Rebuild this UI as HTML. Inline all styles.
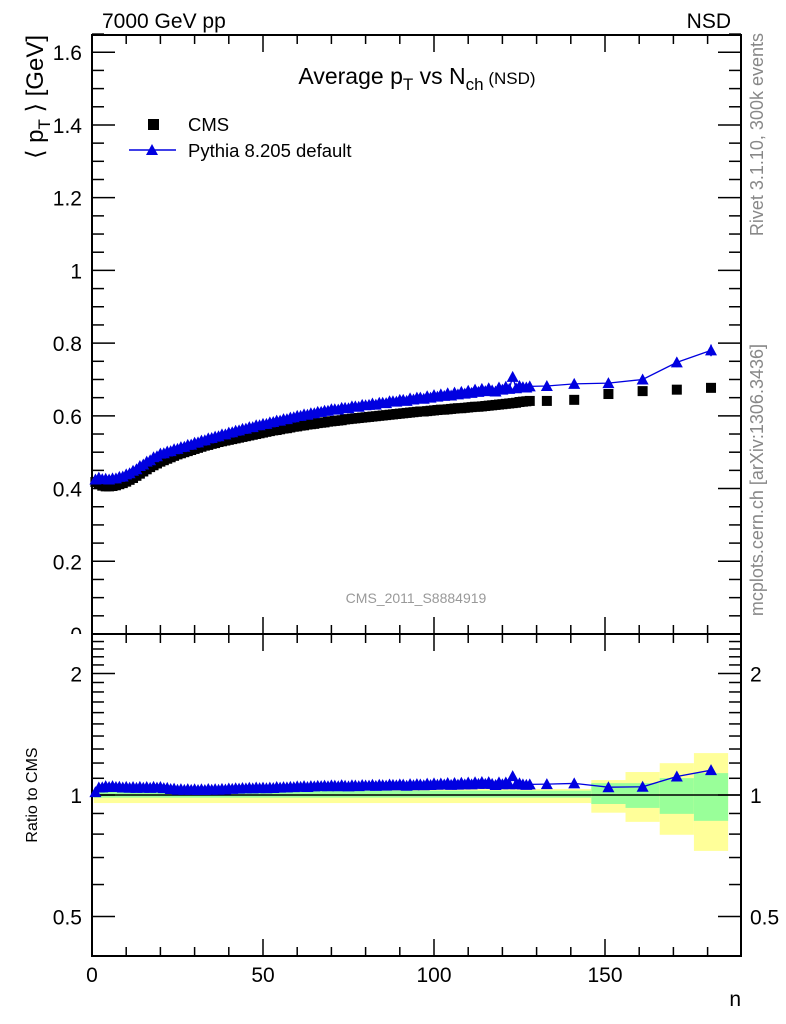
<!DOCTYPE html>
<html><head><meta charset="utf-8"><style>
html,body{margin:0;padding:0;background:#fff;}
svg{display:block;font-family:"Liberation Sans",sans-serif;}
</style></head><body>
<svg id="chart" width="786" height="1024" viewBox="0 0 786 1024" xmlns="http://www.w3.org/2000/svg"></svg>
<script>
const cmsN = [1,2,3,4,5,6,7,8,9,10,11,12,13,14,15,16,17,18,19,20,21,22,23,24,25,26,27,28,29,30,31,32,33,34,35,36,37,38,39,40,41,42,43,44,45,46,47,48,49,50,51,52,53,54,55,56,57,58,59,60,61,62,63,64,65,66,67,68,69,70,71,72,73,74,75,76,77,78,79,80,81,82,83,84,85,86,87,88,89,90,91,92,93,94,95,96,97,98,99,100,101,102,103,104,105,106,107,108,109,110,111,112,113,114,115,116,117,118,119,120,121,122,123,124,125,126,127,128,133,141,151,161,171,181];
const cmsVals = [0.418,0.412,0.408,0.406,0.406,0.407,0.409,0.412,0.415,0.419,0.424,0.429,0.435,0.441,0.447,0.453,0.459,0.464,0.469,0.474,
0.478,0.482,0.486,0.490,0.494,0.497,0.500,0.503,0.506,0.509,
0.512,0.515,0.518,0.520,0.523,0.525,0.528,0.530,0.532,0.534,
0.536,0.538,0.540,0.542,0.544,0.546,0.548,0.550,0.552,0.554,
0.556,0.558,0.560,0.561,0.563,0.565,0.566,0.568,0.570,0.571,
0.573,0.574,0.576,0.577,0.578,0.580,0.581,0.582,0.584,0.585,
0.586,0.587,0.588,0.590,0.591,0.592,0.593,0.594,0.595,0.596,
0.597,0.598,0.599,0.600,0.601,0.602,0.603,0.604,0.605,0.606,
0.607,0.608,0.609,0.610,0.611,0.612,0.612,0.613,0.614,0.615,
0.616,0.617,0.617,0.618,0.619,0.620,0.621,0.621,0.622,0.623,
0.624,0.625,0.625,0.626,0.627,0.628,0.629,0.630,0.631,0.632,
0.633,0.634,0.635,0.636,0.638,0.639,0.640,0.641,
0.641,0.644,0.660,0.668,0.672,0.677];
const pyVals = [0.425,0.430,0.426,0.427,0.425,0.428,0.428,0.432,0.433,0.439,0.442,0.449,0.453,0.462,0.466,0.474,0.478,0.486,0.489,0.496,
0.497,0.502,0.503,0.508,0.509,0.514,0.515,0.520,0.521,0.526,
0.527,0.532,0.533,0.538,0.539,0.543,0.544,0.549,0.549,0.554,
0.555,0.559,0.560,0.564,0.565,0.569,0.569,0.574,0.574,0.578,
0.578,0.582,0.583,0.587,0.587,0.591,0.591,0.595,0.596,0.600,
0.600,0.604,0.603,0.607,0.607,0.611,0.611,0.614,0.614,0.618,
0.618,0.617,0.622,0.622,0.621,0.626,0.626,0.625,0.630,0.629,
0.630,0.634,0.631,0.636,0.636,0.635,0.640,0.640,0.639,0.644,
0.644,0.641,0.648,0.645,0.650,0.650,0.647,0.654,0.650,0.657,
0.653,0.659,0.655,0.662,0.656,0.664,0.659,0.666,0.661,0.669,
0.663,0.672,0.666,0.674,0.668,0.676,0.670,0.667,0.678,0.672,
0.680,0.674,0.707,0.676,0.682,0.679,0.678,0.681,
0.682,0.688,0.690,0.700,0.747,0.780];
const pyErr = [0.004,0.004,0.004,0.006,0.013,0.016];
const bandLo = [146,156,166,176];
const bandHi = [156,166,176,186];
const yelTop = [1.089,1.14,1.199,1.27];
const yelBot = [0.904,0.858,0.797,0.727];
const grnTop = [1.07,1.07,1.101,1.133];
const grnBot = [0.95,0.929,0.898,0.863];
const xTicks = [0,50,100,150];
const yTicks = [0,0.2,0.4,0.6,0.8,1,1.2,1.4,1.6];
const rTicks = [0.5,1,2];

const svg = document.getElementById('chart');
const NS = 'http://www.w3.org/2000/svg';
function el(tag, attrs, parent){const e=document.createElementNS(NS,tag);for(const k in attrs)e.setAttribute(k,attrs[k]);(parent||svg).appendChild(e);return e;}
const L=92, R=741, T=35, MB=634, RB=956;
const xs = v => L + v*3.42;
const ys = v => MB - v*363.6;
const rs = v => 795 - Math.log2(v)*121.5;

const bandG = el('g',{});


let yb = el('rect',{x:xs(0.5),y:rs(1.035),width:xs(146)-xs(0.5),height:rs(0.955)-rs(1.035),fill:'#ffff99'},bandG);


let gb = el('rect',{x:xs(0.5),y:rs(1.025),width:xs(146)-xs(0.5),height:rs(0.985)-rs(1.025),fill:'#99ff99'},bandG);


for(let i=0;i<bandLo.length;i++){
  const w = xs(bandHi[i])-xs(bandLo[i]);
  const a = el('rect',{x:xs(bandLo[i]),y:rs(yelTop[i]),width:w,height:rs(yelBot[i])-rs(yelTop[i]),fill:'#ffff99'},bandG);
  
  
  const b = el('rect',{x:xs(bandLo[i]),y:rs(grnTop[i]),width:w,height:rs(grnBot[i])-rs(grnTop[i]),fill:'#99ff99'},bandG);
  
  
}
el('line',{x1:L,x2:R,y1:rs(1),y2:rs(1),stroke:'#000','stroke-width':1.5});

const f1 = el('rect',{x:L,y:T,width:R-L,height:MB-T,fill:'none',stroke:'#000','stroke-width':2});


const f2 = el('rect',{x:L,y:MB,width:R-L,height:RB-MB,fill:'none',stroke:'#000','stroke-width':2});



for(let v=0; v<=185; v+=10){
  const maj = v%50===0, len = maj?17:9;
  for(const [top,bot] of [[T,MB],[MB,RB]]){
    el('line',{x1:xs(v),x2:xs(v),y1:top,y2:top+len,stroke:'#000','stroke-width':1.5});
    el('line',{x1:xs(v),x2:xs(v),y1:bot,y2:bot-len,stroke:'#000','stroke-width':1.5});
  }
}
for(const v of xTicks){
  const t = el('text',{x:xs(v),y:982,'font-size':21,'text-anchor':'middle'});
  t.textContent=v;
  
  
}
for(let i=0;i<=33;i++){
  const v=i*0.05, maj=i%4===0, len=maj?23:12;
  el('line',{x1:L,x2:L+len,y1:ys(v),y2:ys(v),stroke:'#000','stroke-width':1.5});
  el('line',{x1:R,x2:R-len,y1:ys(v),y2:ys(v),stroke:'#000','stroke-width':1.5});
}
const clipD = el('clipPath',{id:'mainclip'});
el('rect',{x:0,y:0,width:786,height:MB},clipD);
for(const v of yTicks){
  const t = el('text',{x:82,y:ys(v)+8,'font-size':21,'text-anchor':'end','clip-path':'url(#mainclip)'});
  t.textContent = v===0?'0':(Number.isInteger(v)?v:v.toFixed(1));
  
  
}
const rMinor=[0.5,0.6,0.7,0.8,0.9,1,1.1,1.2,1.3,1.4,1.5,1.6,1.7,1.8,1.9,2,2.1,2.2,2.3,2.4,2.5];
for(const v of rMinor){
  const maj = rTicks.includes(v), len=maj?23:12;
  if(rs(v)<MB+1) continue;
  el('line',{x1:L,x2:L+len,y1:rs(v),y2:rs(v),stroke:'#000','stroke-width':1.5});
  el('line',{x1:R,x2:R-len,y1:rs(v),y2:rs(v),stroke:'#000','stroke-width':1.5});
}
for(const v of rTicks){
  const t = el('text',{x:82,y:rs(v)+8,'font-size':21,'text-anchor':'end'});
  t.textContent=v;
  
  
  const t2 = el('text',{x:750,y:rs(v)+8,'font-size':21,'text-anchor':'start'});
  t2.textContent=v;
  
  
}

const cmsG = el('g',{fill:'#000'});


for(let i=0;i<cmsN.length;i++){
  const m = el('rect',{x:xs(cmsN[i])-5,y:ys(cmsVals[i])-5,width:10,height:10},cmsG);
  
  
}
function tri(cx,cy,g){return el('polygon',{points:`${cx},${cy-6} ${cx-6},${cy+5} ${cx+6},${cy+5}`},g);}
const pyG = el('g',{fill:'#0000e0',stroke:'#0000e0'});


let pts = cmsN.map((n,i)=>xs(n)+','+ys(pyVals[i])).join(' ');
const pl = el('polyline',{points:pts,fill:'none','stroke-width':1.3},pyG);


const nS = cmsN.length - pyErr.length;
for(let i=0;i<cmsN.length;i++){
  if(i>=nS){
    const e=pyErr[i-nS];
    el('line',{x1:xs(cmsN[i]),x2:xs(cmsN[i]),y1:ys(pyVals[i]+e),y2:ys(pyVals[i]-e),'stroke-width':1.5},pyG);
  }
  const m = tri(xs(cmsN[i]),ys(pyVals[i]),pyG);
  m.setAttribute('stroke','none');
  
  
}
const rG = el('g',{fill:'#0000e0',stroke:'#0000e0'});


let rpts = cmsN.map((n,i)=>xs(n)+','+rs(pyVals[i]/cmsVals[i])).join(' ');
const rl = el('polyline',{points:rpts,fill:'none','stroke-width':1.3},rG);


for(let i=0;i<cmsN.length;i++){
  const r = pyVals[i]/cmsVals[i];
  if(i>=nS){
    const e=pyErr[i-nS]/cmsVals[i];
    el('line',{x1:xs(cmsN[i]),x2:xs(cmsN[i]),y1:rs(r+e),y2:rs(r-e),'stroke-width':1.5},rG);
  }
  const m = tri(xs(cmsN[i]),rs(r),rG);
  m.setAttribute('stroke','none');
  
  
}

function txt(x,y,s,attrs,name){const t=el('text',Object.assign({x:x,y:y},attrs));t.textContent=s;return t;}
txt(102,28,'7000 GeV pp',{'font-size':21},'energy-label');
txt(731,28,'NSD',{'font-size':21,'text-anchor':'end'},'process-label');
const title = el('text',{x:417,y:84,'font-size':23,'text-anchor':'middle'});
title.innerHTML='Average p<tspan font-size="17" dy="6">T</tspan><tspan dy="-6"> vs N</tspan><tspan font-size="17" dy="6">ch</tspan><tspan dy="-6" font-size="17"> (NSD)</tspan>';


const lg = el('g',{});


el('rect',{x:148,y:119,width:11,height:11,fill:'#000'},lg);
txt(188,131,'CMS',{'font-size':18.5},'legend-entry-cms');
el('line',{x1:129,x2:176,y1:150,y2:150,stroke:'#0000e0','stroke-width':1.5},lg);
tri(152,150,lg).setAttribute('fill','#0000e0');
txt(188,157,'Pythia 8.205 default',{'font-size':18.5},'legend-entry-pythia');
txt(416,603,'CMS_2011_S8884919',{'font-size':14,'text-anchor':'middle',fill:'#999'},'analysis-id');
const yt = el('text',{x:0,y:0,'font-size':24,'text-anchor':'end',transform:'translate(43,35) rotate(-90)'});
yt.innerHTML='⟨ p<tspan font-size="17" dy="7">T</tspan><tspan dy="-7"> ⟩ [GeV]</tspan>';


txt(0,0,'Ratio to CMS',{'font-size':16,'text-anchor':'middle',transform:'translate(37,795) rotate(-90)'},'ratio-axis-title');
txt(741,1006,'n',{'font-size':21,'text-anchor':'end'},'x-axis-title');
txt(0,0,'Rivet 3.1.10,  300k events',{'font-size':18,'text-anchor':'end',fill:'#888',transform:'translate(763,33) rotate(-90)'},'rivet-version-label');
txt(0,0,'mcplots.cern.ch [arXiv:1306.3436]',{'font-size':18,'text-anchor':'end',fill:'#888',transform:'translate(763,344) rotate(-90)'},'mcplots-label');
</script>
</body></html>
